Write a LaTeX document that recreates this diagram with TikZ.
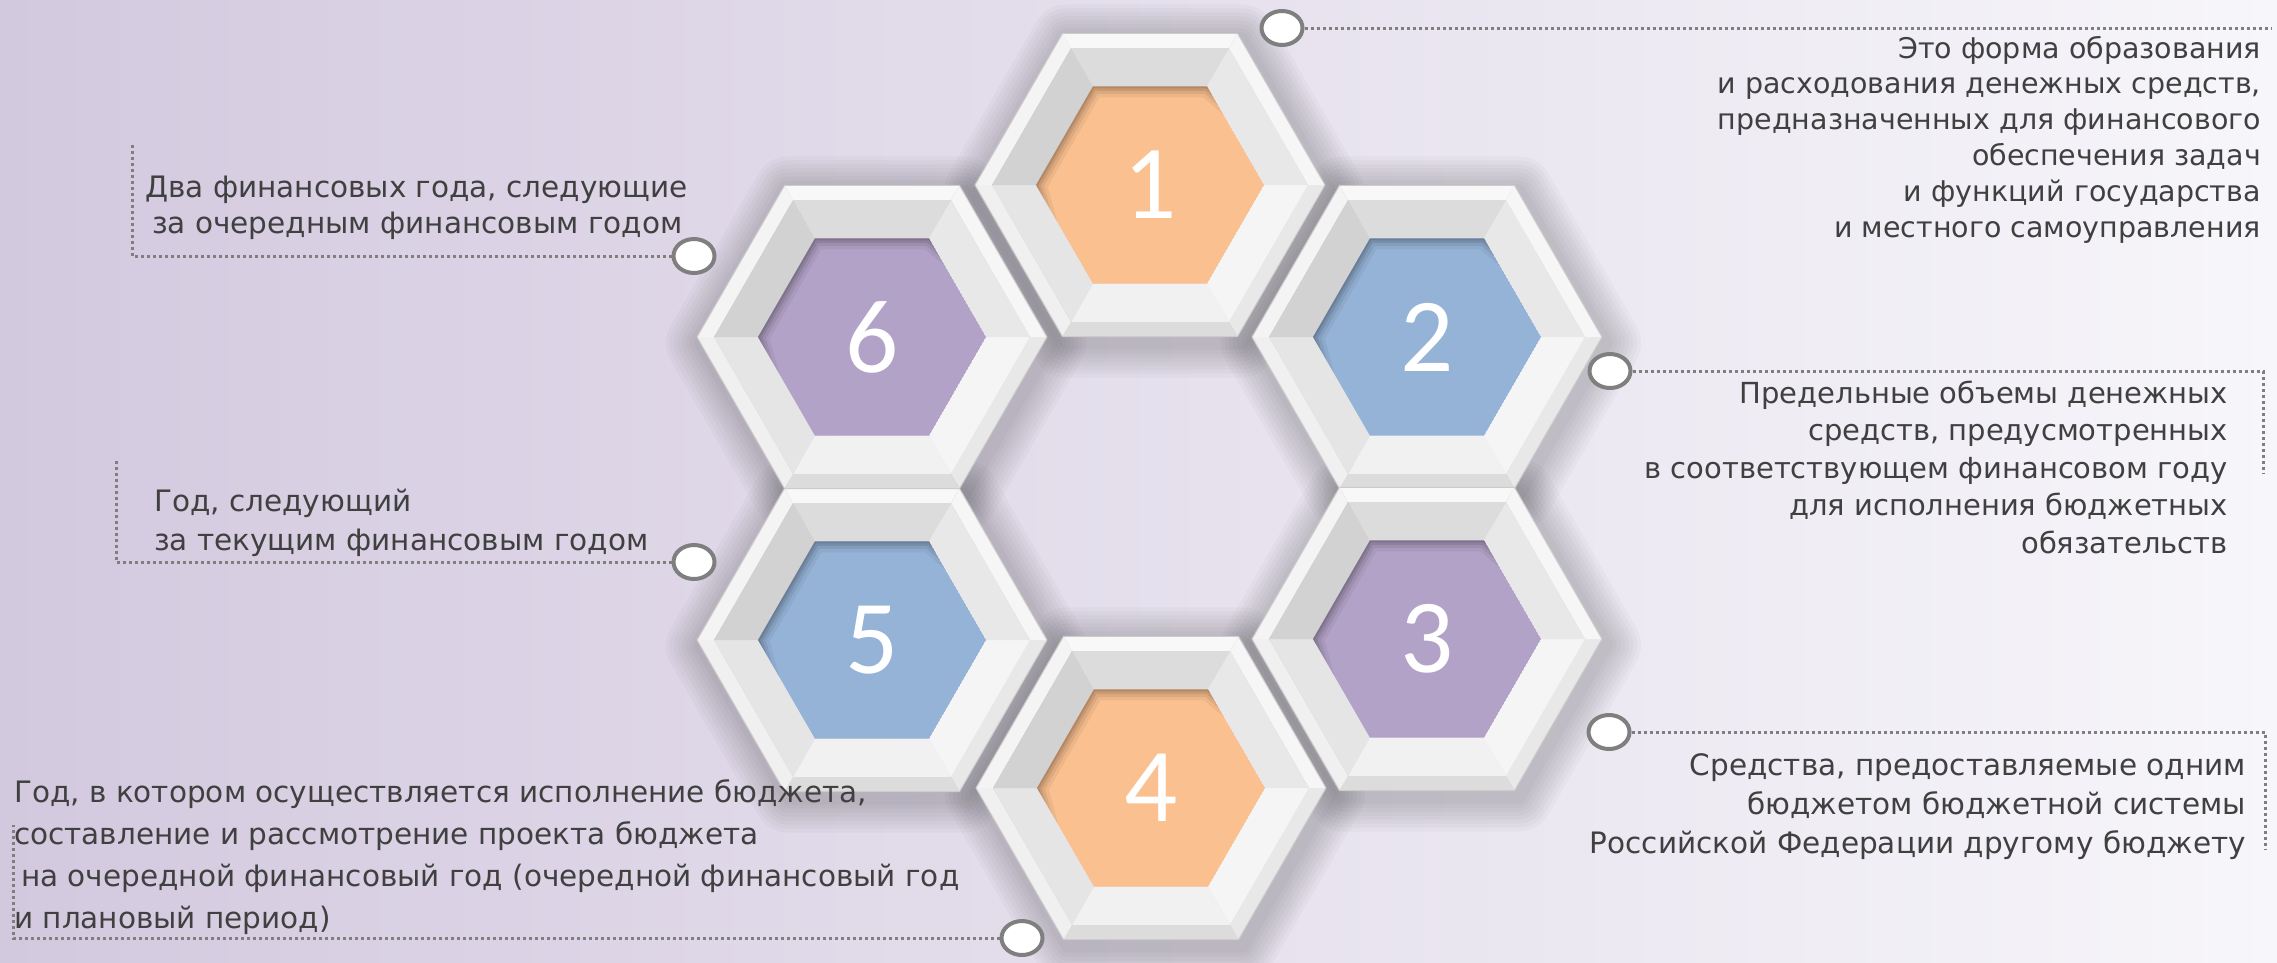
\documentclass[tikz,border=0pt]{standalone}
\usepackage{fontspec}
\setmainfont{DejaVu Sans}
\newfontfamily\numfont{Carlito}
\usetikzlibrary{shapes.geometric}
\definecolor{bgL}{HTML}{D3C9DF}
\definecolor{bgM}{HTML}{E0DAE9}
\definecolor{bgR}{HTML}{F7F6FA}
\definecolor{hexOrange}{HTML}{FAC090}
\definecolor{hexBlue}{HTML}{95B3D7}
\definecolor{hexPurple}{HTML}{B3A2C7}
\definecolor{txt}{HTML}{404040}
\definecolor{lineGray}{HTML}{7F7F7F}
\definecolor{rimT}{HTML}{F8F8F8}
\definecolor{rimUL}{HTML}{F4F4F4}
\definecolor{rimUR}{HTML}{F6F6F6}
\definecolor{rimLL}{HTML}{F0F0F0}
\definecolor{rimLR}{HTML}{E8E8E8}
\definecolor{rimB}{HTML}{DCDCDC}
\definecolor{bvT}{HTML}{DCDCDC}
\definecolor{bvUL}{HTML}{D2D2D2}
\definecolor{bvUR}{HTML}{E8E8E8}
\definecolor{bvLL}{HTML}{E5E5E5}
\definecolor{bvB}{HTML}{F1F1F1}
\definecolor{bvLR}{HTML}{F5F5F5}
\definecolor{hexEdge}{HTML}{CCCCCC}

\tikzset{
  dotc/.style={ellipse, draw=lineGray, fill=white, line width=4pt,
    minimum width=41pt, minimum height=34pt, inner sep=0pt},
  dotline/.style={draw=lineGray, line width=3pt, dash pattern=on 3pt off 3pt},
  desc/.style={text=txt, inner sep=0pt},
  numtext/.style={text=white, inner sep=0pt,
    font=\numfont\fontsize{105}{105}\selectfont},
}

\newcommand\hexface[4]{%
  \fill[#4] (#1:#2) -- (#1+60:#2) -- (#1+60:#3) -- (#1:#3) -- cycle;}
\newcommand\hexpath[1]{(0:#1) -- (60:#1) -- (120:#1) -- (180:#1) -- (240:#1) -- (300:#1) -- cycle}

\newcommand\hexshadow[2]{%
  \begin{scope}[shift={(#1+4,#2+6)}]
    \foreach \w in {70,62,54,46,38,30,22,14}{
      \draw[black, opacity=0.024, line width=\w pt, line join=round] \hexpath{175};
    }
  \end{scope}}

\newcommand\hexcell[5]{%
  \begin{scope}[shift={(#2,#3)}]
    \hexface{0}{175}{158}{rimLR}
    \hexface{60}{175}{158}{rimB}
    \hexface{120}{175}{158}{rimLL}
    \hexface{180}{175}{158}{rimUL}
    \hexface{240}{175}{158}{rimT}
    \hexface{300}{175}{158}{rimUR}
    \hexface{0}{158}{114}{bvLR}
    \hexface{60}{158}{114}{bvB}
    \hexface{120}{158}{114}{bvLL}
    \hexface{180}{158}{114}{bvUL}
    \hexface{240}{158}{114}{bvT}
    \hexface{300}{158}{114}{bvUR}
    \draw[hexEdge, line width=1pt, line join=round] \hexpath{175};
    \begin{scope}
      \clip \hexpath{114};
      \fill[#4] \hexpath{114};
      \foreach \w/\o in {22/0.05,15/0.07,9/0.09,4/0.11}{
        \draw[black, opacity=\o, line width=\w pt, line join=round]
          (150:114) -- (180:114) -- (240:114) -- (300:114) -- (320:114);
      }
    \end{scope}
    \node[numtext] (#1) at (0,0) {#5};
  \end{scope}}

\begin{document}
\begin{tikzpicture}[x=1pt, y=-1pt]
  \useasboundingbox (0,0) rectangle (2277,962);
  \fill[left color=bgL, middle color=bgM, right color=bgR] (0,0) rectangle (2277,962);

  % shadows
  \hexshadow{1150}{185}
  \hexshadow{1427}{337}
  \hexshadow{1427}{639}
  \hexshadow{1151}{788}
  \hexshadow{872}{640}
  \hexshadow{872}{337}

  % hexagons
  \hexcell{h1}{1150}{185}{hexOrange}{1}
  \hexcell{h2}{1427}{337}{hexBlue}{2}
  \hexcell{h3}{1427}{639}{hexPurple}{3}
  \hexcell{h4}{1151}{788}{hexOrange}{4}
  \hexcell{h5}{872}{640}{hexBlue}{5}
  \hexcell{h6}{872}{337}{hexPurple}{6}

  % callout circles
  \node[dotc] (c1) at (1282,28) {};
  \node[dotc] (c2) at (1610,371) {};
  \node[dotc] (c3) at (1609,732) {};
  \node[dotc] (c4) at (1022,938) {};
  \node[dotc] (c5) at (694,562) {};
  \node[dotc] (c6) at (694,256) {};

  % line ends
  \coordinate (e1) at (2272,28);
  \coordinate (e2a) at (2263,371);
  \coordinate (e2b) at (2263,473);
  \coordinate (e3a) at (2265,732);
  \coordinate (e3b) at (2265,850);
  \coordinate (e4a) at (13,938);
  \coordinate (e4b) at (13,825);
  \coordinate (e5a) at (116,562);
  \coordinate (e5b) at (116,458);
  \coordinate (e6a) at (132,256);
  \coordinate (e6b) at (132,145);

  \draw[dotline] (c1) -- (e1);
  \draw[dotline] (c2) -- (e2a) -- (e2b);
  \draw[dotline] (c3) -- (e3a) -- (e3b);
  \draw[dotline] (c4) -- (e4a) -- (e4b);
  \draw[dotline] (c5) -- (e5a) -- (e5b);
  \draw[dotline] (c6) -- (e6a) -- (e6b);

  % texts (base anchor = baseline of the last line)
  \node[desc, anchor=base east, align=right, font=\fontsize{28.5}{35.8}\selectfont] (t1) at (2261,237)
    {Это форма образования\\и расходования денежных средств,\\предназначенных для финансового\\обеспечения задач\\и функций государства\\и местного самоуправления};
  \node[desc, anchor=base east, align=right, font=\fontsize{29}{37.5}\selectfont] (t2) at (2228,553)
    {Предельные объемы денежных\\средств, предусмотренных\\в соответствующем финансовом году\\для исполнения бюджетных\\обязательств};
  \node[desc, anchor=base east, align=right, font=\fontsize{29.5}{39}\selectfont] (t3) at (2246,853)
    {Средства, предоставляемые одним\\бюджетом бюджетной системы\\Российской Федерации другому бюджету};
  \node[desc, anchor=base west, align=left, font=\fontsize{29.5}{41.7}\selectfont] (t4) at (14,928)
    {Год, в котором осуществляется исполнение бюджета,\\составление и рассмотрение проекта бюджета\\\hspace*{7pt}на очередной финансовый год (очередной финансовый год\\и плановый период)};
  \node[desc, anchor=base west, align=left, font=\fontsize{29.5}{39}\selectfont] (t5) at (154,550)
    {Год, следующий\\за текущим финансовым годом};
  \node[desc, anchor=base west, align=left, font=\fontsize{29.5}{36}\selectfont] (t6) at (145,233)
    {Два финансовых года, следующие\\\hspace*{7pt}за очередным финансовым годом};
\end{tikzpicture}
\end{document}
